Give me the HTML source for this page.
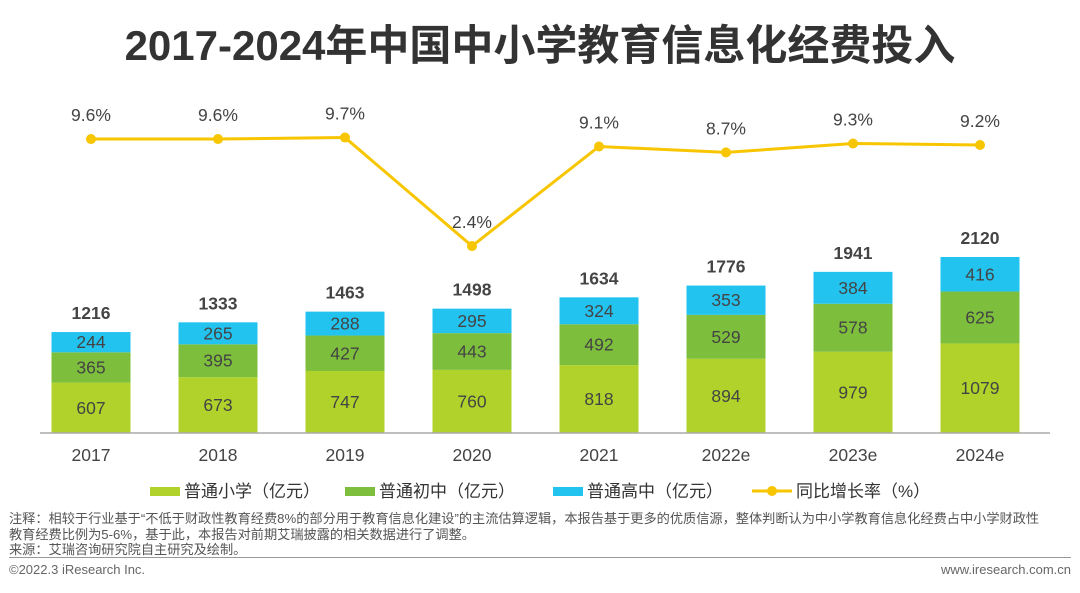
<!DOCTYPE html>
<html><head><meta charset="utf-8"><style>
body{margin:0;background:#fff;font-family:"Liberation Sans","Noto Sans CJK SC",sans-serif;}
#wrap{position:relative;width:1080px;height:593px;overflow:hidden;}
.t{position:absolute;white-space:nowrap;}
</style></head><body>
<div id="wrap">
<div class="t" style="left:0;width:1080px;text-align:center;top:12px;font-size:42px;font-weight:bold;color:#333;font-family:'Liberation Sans','Noto Sans CJK SC',sans-serif;">2017-2024年中国中小学教育信息化经费投入</div>
<svg id="chart" width="1080" height="593" style="position:absolute;left:0;top:0"></svg>
<div class="t" style="left:9px;top:511px;font-size:13.2px;line-height:15.5px;color:#555;">注释：相较于行业基于“不低于财政性教育经费8%的部分用于教育信息化建设”的主流估算逻辑，本报告基于更多的优质信源，整体判断认为中小学教育信息化经费占中小学财政性<br>教育经费比例为5-6%，基于此，本报告对前期艾瑞披露的相关数据进行了调整。<br>来源：艾瑞咨询研究院自主研究及绘制。</div>
<div style="position:absolute;left:9px;width:1062px;top:557px;height:1px;background:#999;"></div>
<div class="t" style="left:9px;top:562px;font-size:13px;color:#666;">©2022.3 iResearch Inc.</div>
<div class="t" style="right:9px;top:562px;font-size:13px;color:#666;">www.iresearch.com.cn</div>
</div>
<script>
const categories=["2017","2018","2019","2020","2021","2022e","2023e","2024e"];
const primary=[607,673,747,760,818,894,979,1079];
const junior=[365,395,427,443,492,529,578,625];
const senior=[244,265,288,295,324,353,384,416];
const totals=[1216,1333,1463,1498,1634,1776,1941,2120];
const growth=[9.6,9.6,9.7,2.4,9.1,8.7,9.3,9.2];
const svg=document.getElementById('chart');
const NS='http://www.w3.org/2000/svg';
function mk(tag,attrs,txt){const e=document.createElementNS(NS,tag);for(const k in attrs)e.setAttribute(k,attrs[k]);if(txt!==undefined)e.textContent=txt;svg.appendChild(e);return e;}
const base=433, unit=176/2120;
const xC=i=>91+i*127;
const yV=v=>base-v*unit;
const yP=p=>281.7-p*14.86;
const bw=79;
const F='Liberation Sans, Noto Sans CJK SC, sans-serif';
categories.forEach((c,i)=>{
  const x=xC(i)-bw/2;
  const segs=[[primary[i],'#b0d22a','bar-primary'],[junior[i],'#7dbf3c','bar-junior'],[senior[i],'#22c3ef','bar-senior']];
  let acc=0;
  segs.forEach(s=>{
    const y0=yV(acc), y1=yV(acc+s[0]);
    const r=mk('rect',{x:x,y:y1,width:bw,height:y0-y1,fill:s[1]});
    
    
    const t=mk('text',{x:xC(i),y:(y0+y1)/2+6,'text-anchor':'middle','font-size':17.5,fill:'#444','font-family':F},s[0]);
    
    
    acc+=s[0];
  });
  const tt=mk('text',{x:xC(i),y:yV(totals[i])-13,'text-anchor':'middle','font-size':17.5,'font-weight':'bold',fill:'#444','font-family':F},totals[i]);
  
  
  const xl=mk('text',{x:xC(i),y:461,'text-anchor':'middle','font-size':17.5,fill:'#444','font-family':F},c);
  
  
});
const ax=mk('line',{x1:40,x2:1050,y1:base,y2:base,stroke:'#aaa','stroke-width':1.5});


const pl=mk('polyline',{points:growth.map((g,i)=>xC(i)+','+yP(g)).join(' '),fill:'none',stroke:'#f7c600','stroke-width':3});


growth.forEach((g,i)=>{
  const c=mk('circle',{cx:xC(i),cy:yP(g),r:5,fill:'#f7c600'});
  
  
  const t=mk('text',{x:xC(i),y:yP(g)-18,'text-anchor':'middle','font-size':17.5,fill:'#444','font-family':F},g.toFixed(1)+'%');
  
  
});
const legend=[['普通小学（亿元）','#b0d22a',150,'rect'],['普通初中（亿元）','#7dbf3c',345,'rect'],['普通高中（亿元）','#22c3ef',553,'rect'],['同比增长率（%）','#f7c600',752,'line']];
legend.forEach(l=>{
  if(l[3]==='rect'){const r=mk('rect',{x:l[2],y:487,width:30,height:9,fill:l[1]});}
  else{const ln=mk('line',{x1:l[2],x2:l[2]+40,y1:491,y2:491,stroke:l[1],'stroke-width':3});
    const c=mk('circle',{cx:l[2]+20,cy:491,r:5,fill:l[1]});}
  const t=mk('text',{x:l[2]+(l[3]==='rect'?34:44),y:497,'font-size':17,fill:'#333','font-family':F},l[0]);
  
  
});
</script>
</body></html>
